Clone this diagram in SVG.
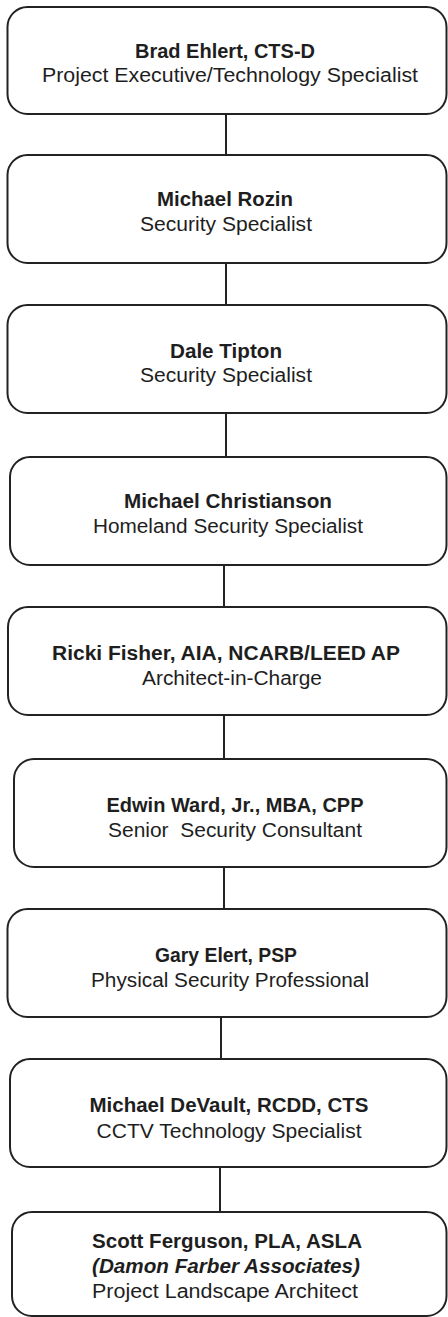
<svg xmlns="http://www.w3.org/2000/svg" width="448" height="1317" viewBox="0 0 448 1317">
<style>
.box{fill:#fff;stroke:#222;stroke-width:2}
.con{stroke:#222;stroke-width:2;fill:none}
text{font-family:"Liberation Sans",Arial,sans-serif;font-size:20px;fill:#1e1e1e;text-anchor:middle}
.n{font-weight:bold}
.i{font-weight:bold;font-style:italic}
</style>
<rect width="448" height="1317" fill="#fff"/>
<g id="connectors">
<line class="con" x1="226" y1="114" x2="226" y2="155"/>
<line class="con" x1="226" y1="263" x2="226" y2="305"/>
<line class="con" x1="226" y1="413" x2="226" y2="457"/>
<line class="con" x1="224" y1="565" x2="224" y2="607"/>
<line class="con" x1="224" y1="715" x2="224" y2="759"/>
<line class="con" x1="224" y1="867" x2="224" y2="909"/>
<line class="con" x1="221" y1="1017" x2="221" y2="1059"/>
<line class="con" x1="220" y1="1167" x2="220" y2="1212"/>
</g>
<g id="n1">
<rect class="box" x="7.5" y="7" width="439" height="107" rx="20"/>
<text class="n" x="225" y="58" textLength="180" lengthAdjust="spacingAndGlyphs">Brad Ehlert, CTS-D</text>
<text x="230" y="82" textLength="376" lengthAdjust="spacingAndGlyphs">Project Executive/Technology Specialist</text>
</g>
<g id="n2">
<rect class="box" x="7.5" y="155" width="439" height="108" rx="20"/>
<text class="n" x="225" y="206" textLength="136" lengthAdjust="spacingAndGlyphs">Michael Rozin</text>
<text x="226" y="231" textLength="172" lengthAdjust="spacingAndGlyphs">Security Specialist</text>
</g>
<g id="n3">
<rect class="box" x="7.5" y="305" width="439" height="108" rx="20"/>
<text class="n" x="226" y="358" textLength="112" lengthAdjust="spacingAndGlyphs">Dale Tipton</text>
<text x="226" y="382" textLength="172" lengthAdjust="spacingAndGlyphs">Security Specialist</text>
</g>
<g id="n4">
<rect class="box" x="10" y="457" width="436.5" height="108" rx="20"/>
<text class="n" x="228" y="508" textLength="208" lengthAdjust="spacingAndGlyphs">Michael Christianson</text>
<text x="228" y="533" textLength="270" lengthAdjust="spacingAndGlyphs">Homeland Security Specialist</text>
</g>
<g id="n5">
<rect class="box" x="8" y="607" width="438.5" height="108" rx="20"/>
<text class="n" x="226" y="660" textLength="348" lengthAdjust="spacingAndGlyphs">Ricki Fisher, AIA, NCARB/LEED AP</text>
<text x="232" y="685" textLength="180" lengthAdjust="spacingAndGlyphs">Architect-in-Charge</text>
</g>
<g id="n6">
<rect class="box" x="14" y="759" width="432.5" height="108" rx="20"/>
<text class="n" x="235" y="812" textLength="257" lengthAdjust="spacingAndGlyphs">Edwin Ward, Jr., MBA, CPP</text>
<text x="235" y="837" textLength="254" lengthAdjust="spacingAndGlyphs" xml:space="preserve">Senior  Security Consultant</text>
</g>
<g id="n7">
<rect class="box" x="7.5" y="909" width="439" height="108" rx="20"/>
<text class="n" x="226" y="962" textLength="142" lengthAdjust="spacingAndGlyphs">Gary Elert, PSP</text>
<text x="230" y="987" textLength="278" lengthAdjust="spacingAndGlyphs">Physical Security Professional</text>
</g>
<g id="n8">
<rect class="box" x="10" y="1059" width="436.5" height="108" rx="20"/>
<text class="n" x="229" y="1112" textLength="279" lengthAdjust="spacingAndGlyphs">Michael DeVault, RCDD, CTS</text>
<text x="229" y="1138" textLength="265" lengthAdjust="spacingAndGlyphs">CCTV Technology Specialist</text>
</g>
<g id="n9">
<rect class="box" x="12" y="1212" width="434.5" height="104" rx="20"/>
<text class="n" x="227" y="1248" textLength="270" lengthAdjust="spacingAndGlyphs">Scott Ferguson, PLA, ASLA</text>
<text class="i" x="226" y="1273" textLength="268" lengthAdjust="spacingAndGlyphs">(Damon Farber Associates)</text>
<text x="225" y="1298" textLength="266" lengthAdjust="spacingAndGlyphs">Project Landscape Architect</text>
</g>
</svg>
